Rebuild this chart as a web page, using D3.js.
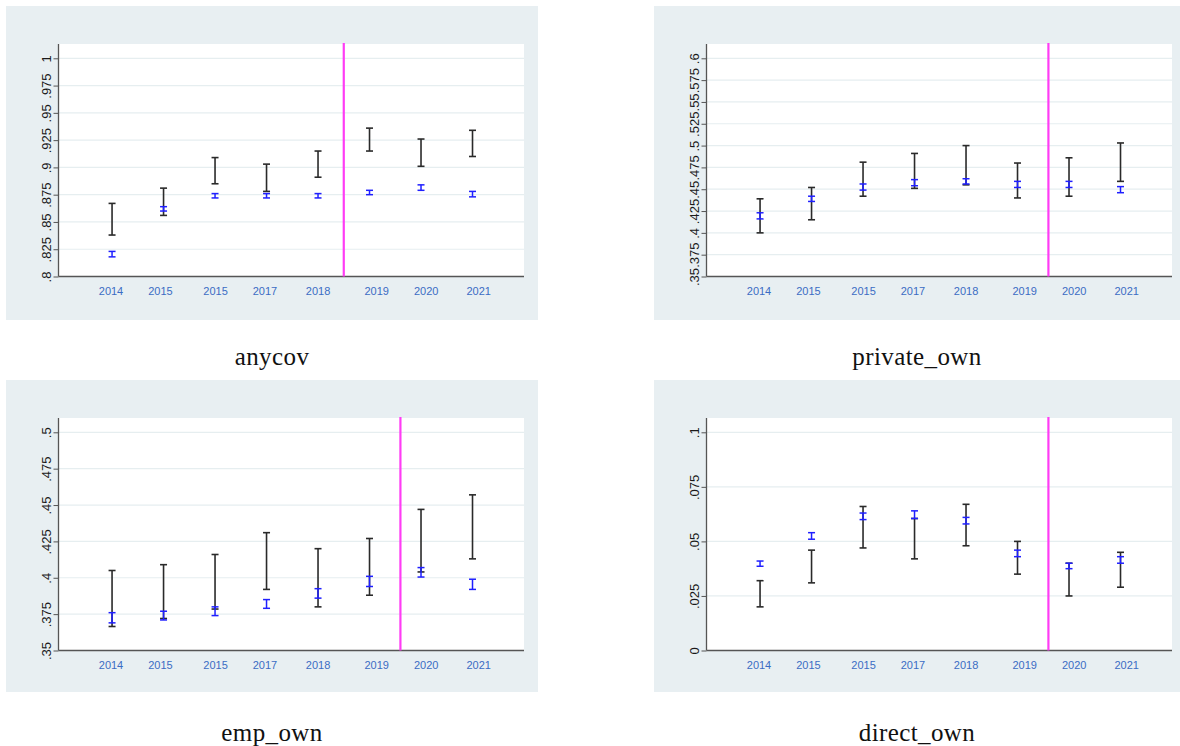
<!DOCTYPE html>
<html>
<head>
<meta charset="utf-8">
<script src="https://cdn.jsdelivr.net/npm/d3@7"></script>
<style>
  body { margin: 0; background: #fff; }
  svg { display: block; }
</style>
</head>
<body>
<div id="chart"></div>
<script>
// x labels (as printed in the source figure) and where they sit on the x axis
const years = ['2014', '2015', '2015', '2017', '2018', '2019', '2020', '2021'];
const yearTickPos = [0.98, 1.94, 3.01, 3.97, 5.0, 6.14, 7.1, 8.12];

// [lo, hi] per year; black = wide interval, blue = narrow interval
const anycovBlack = [[0.838, 0.867], [0.856, 0.881], [0.885, 0.909], [0.878, 0.903], [0.891, 0.915], [0.915, 0.936], [0.901, 0.926], [0.910, 0.934]];
const anycovBlue = [[0.818, 0.823], [0.860, 0.864], [0.872, 0.876], [0.872, 0.876], [0.872, 0.876], [0.875, 0.879], [0.879, 0.884], [0.873, 0.878]];
const anycovTicks = [0.8, 0.825, 0.85, 0.875, 0.9, 0.925, 0.95, 0.975, 1];

const privateBlack = [[0.400, 0.439], [0.415, 0.452], [0.442, 0.481], [0.451, 0.491], [0.455, 0.500], [0.440, 0.480], [0.442, 0.486], [0.459, 0.503]];
const privateBlue = [[0.416, 0.423], [0.436, 0.442], [0.449, 0.456], [0.454, 0.461], [0.456, 0.462], [0.452, 0.459], [0.452, 0.459], [0.446, 0.453]];
const privateTicks = [0.35, 0.375, 0.4, 0.425, 0.45, 0.475, 0.5, 0.525, 0.55, 0.575, 0.6];

const empBlack = [[0.3665, 0.405], [0.372, 0.409], [0.3785, 0.416], [0.392, 0.431], [0.380, 0.420], [0.388, 0.427], [0.404, 0.447], [0.413, 0.457]];
const empBlue = [[0.369, 0.376], [0.371, 0.377], [0.374, 0.380], [0.379, 0.385], [0.386, 0.3925], [0.394, 0.401], [0.4005, 0.407], [0.392, 0.399]];
const empTicks = [0.35, 0.375, 0.4, 0.425, 0.45, 0.475, 0.5];

const directBlack = [[0.020, 0.032], [0.031, 0.046], [0.047, 0.066], [0.042, 0.0605], [0.048, 0.067], [0.035, 0.050], [0.025, 0.040], [0.029, 0.045]];
const directBlue = [[0.0386, 0.041], [0.051, 0.054], [0.060, 0.063], [0.0605, 0.064], [0.058, 0.061], [0.043, 0.046], [0.0375, 0.040], [0.040, 0.043]];
const directTicks = [0, 0.025, 0.05, 0.075, 0.1];

const titles = ['anycov', 'private_own', 'emp_own', 'direct_own'];
const breakYear = [5.5, 6.6, 6.6, 6.6];

const panels = [
  { title: titles[0], black: anycovBlack, blue: anycovBlue, ticks: anycovTicks, brk: breakYear[0], x: 6, y: 6, w: 532, h: 314 },
  { title: titles[1], black: privateBlack, blue: privateBlue, ticks: privateTicks, brk: breakYear[1], x: 654, y: 6, w: 526, h: 314 },
  { title: titles[2], black: empBlack, blue: empBlue, ticks: empTicks, brk: breakYear[2], x: 6, y: 380, w: 532, h: 312 },
  { title: titles[3], black: directBlack, blue: directBlue, ticks: directTicks, brk: breakYear[3], x: 654, y: 380, w: 526, h: 312 }
];

const svg = d3.select('#chart')
  .append('svg')
  .attr('width', 1180)
  .attr('height', 746);

const fmt = (d) => (d === 0 ? '0' : String(+d.toFixed(4)).replace(/^0\./, '.'));

const plotLeft = 52.5, plotW = 465.5, plotTop = 38, axisY = 270.5, topTick = 52.3;

panels.forEach((p) => {
  const g = svg.append('g').attr('transform', `translate(${p.x},${p.y})`);

  g.append('rect')
    .attr('width', p.w)
    .attr('height', p.h)
    .attr('fill', '#e8eff2');

  g.append('rect')
    .attr('x', plotLeft)
    .attr('y', plotTop)
    .attr('width', plotW)
    .attr('height', axisY - plotTop)
    .attr('fill', '#fff');

  const x = d3.scaleLinear().domain([-0.04, 9.0]).range([plotLeft, plotLeft + plotW]);
  const y = d3.scaleLinear()
    .domain([p.ticks[0], p.ticks[p.ticks.length - 1]])
    .range([axisY, topTick]);

  // gridlines
  g.append('g')
    .selectAll('line')
    .data(p.ticks.slice(1))
    .enter()
    .append('line')
    .attr('x1', plotLeft)
    .attr('x2', plotLeft + plotW)
    .attr('y1', (d) => y(d))
    .attr('y2', (d) => y(d))
    .attr('stroke', '#e6eef0')
    .attr('stroke-width', 1.2);

  // y axis
  const yAxis = g.append('g')
    .attr('transform', `translate(${plotLeft},0)`)
    .call(d3.axisLeft(y).tickValues(p.ticks).tickSize(5).tickFormat(fmt));
  yAxis.select('.domain').remove();
  yAxis.selectAll('line').attr('stroke', '#555');
  yAxis.selectAll('text')
    .attr('transform', 'rotate(-90)')
    .attr('x', 0)
    .attr('y', -8)
    .attr('dy', 0)
    .attr('text-anchor', 'middle')
    .attr('fill', '#1a1a1a')
    .style('font-family', 'Liberation Sans, Arial, sans-serif')
    .style('font-size', '13px');

  g.append('line')
    .attr('x1', plotLeft).attr('x2', plotLeft)
    .attr('y1', plotTop).attr('y2', axisY)
    .attr('stroke', '#555').attr('stroke-width', 1.3);
  g.append('line')
    .attr('x1', plotLeft).attr('x2', plotLeft + plotW)
    .attr('y1', axisY).attr('y2', axisY)
    .attr('stroke', '#555').attr('stroke-width', 1.3);

  // x labels
  g.append('g')
    .selectAll('text')
    .data(years)
    .enter()
    .append('text')
    .attr('x', (d, i) => x(yearTickPos[i]))
    .attr('y', axisY + 18)
    .attr('text-anchor', 'middle')
    .attr('fill', '#3b6cc4')
    .style('font-family', 'Liberation Sans, Arial, sans-serif')
    .style('font-size', '11px')
    .text((d) => d);

  // break line
  g.append('line')
    .attr('x1', x(p.brk)).attr('x2', x(p.brk))
    .attr('y1', plotTop - 1).attr('y2', axisY)
    .attr('stroke', '#ff3cf5')
    .attr('stroke-width', 2.2);

  const drawBars = (data, color, sw) => {
    const bars = g.append('g')
      .selectAll('g')
      .data(data)
      .enter()
      .append('g')
      .attr('stroke', color)
      .attr('stroke-width', sw);
    bars.append('line')
      .attr('x1', (d, i) => x(i + 1)).attr('x2', (d, i) => x(i + 1))
      .attr('y1', (d) => y(d[0])).attr('y2', (d) => y(d[1]));
    bars.append('line')
      .attr('x1', (d, i) => x(i + 1) - 3.5).attr('x2', (d, i) => x(i + 1) + 3.5)
      .attr('y1', (d) => y(d[0])).attr('y2', (d) => y(d[0]));
    bars.append('line')
      .attr('x1', (d, i) => x(i + 1) - 3.5).attr('x2', (d, i) => x(i + 1) + 3.5)
      .attr('y1', (d) => y(d[1])).attr('y2', (d) => y(d[1]));
  };

  drawBars(p.black, '#2a2a2a', 1.6);
  drawBars(p.blue, '#1f1fff', 1.5);

  // title under the panel
  svg.append('text')
    .attr('x', p.x + p.w / 2)
    .attr('y', p.y + p.h + (p.y < 100 ? 45 : 49))
    .attr('text-anchor', 'middle')
    .attr('fill', '#111')
    .style('font-family', 'Liberation Serif, DejaVu Serif, serif')
    .style('font-size', '25px')
    .style('letter-spacing', '0.4px')
    .text(p.title);
});
</script>
</body>
</html>
